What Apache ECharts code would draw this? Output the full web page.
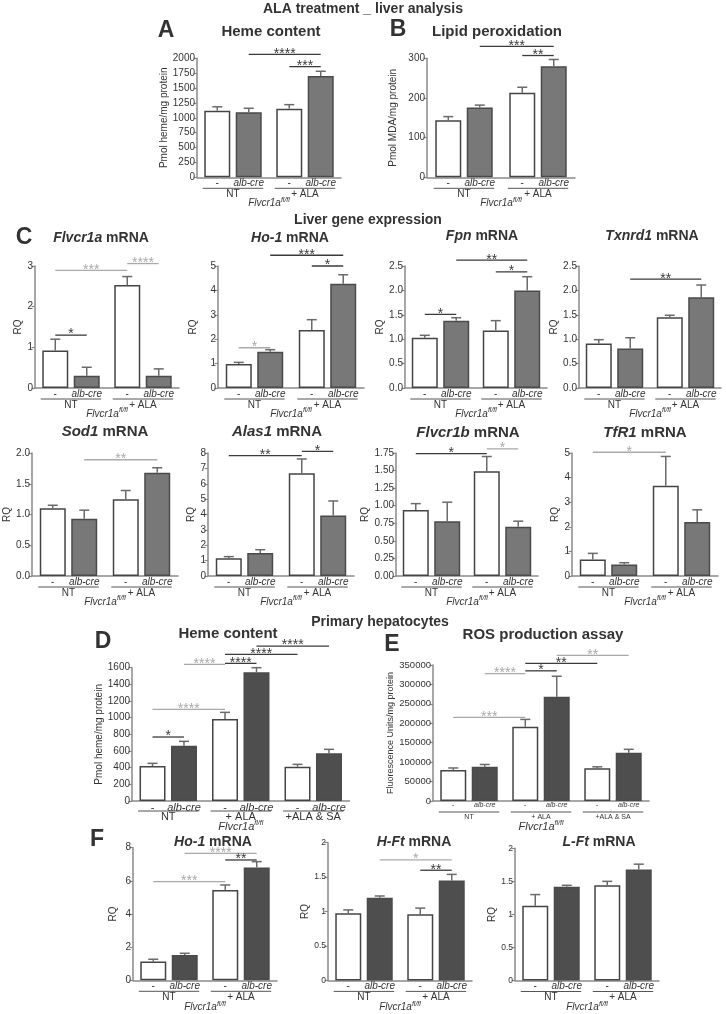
<!DOCTYPE html>
<html><head><meta charset="utf-8">
<script src="https://cdn.jsdelivr.net/npm/echarts@6/dist/echarts.min.js"></script>
<style>html,body{margin:0;padding:0;background:#fff}#c{width:726px;height:1014px}</style>
</head><body><div id="c"></div>
<script>
// ================= DATA =================
const groups2 = ['NT', '+ ALA'];
const groups3 = ['NT', '+ ALA', '+ALA & SA'];
const barTags = ['-', 'alb-cre'];

// sig rows: [fromBar, toBar, yValue, stars, tone]  (bar index: group*2 + (0=ctrl,1=alb-cre))
// A - heme content (liver)
const hemeLiverCtrl = [1120, 1154], hemeLiverCtrlErr = [65, 67];
const hemeLiverCre = [1092, 1703], hemeLiverCreErr = [68, 79];
const hemeLiverSig = [[1, 3, 2067, '****', 'd'], [2, 3, 1860, '***', 'd']];
// B - lipid peroxidation
const lipidCtrl = [144, 213], lipidCtrlErr = [9, 14];
const lipidCre = [176, 280], lipidCreErr = [6, 17];
const lipidSig = [[1, 3, 330, '***', 'd'], [2, 3, 307, '**', 'd']];
// C - liver gene expression
const flvcr1aCtrl = [0.92, 2.53], flvcr1aCtrlErr = [0.28, 0.21];
const flvcr1aCre = [0.30, 0.30], flvcr1aCreErr = [0.21, 0.17];
const flvcr1aSig = [[0, 2, 2.89, '***', 'g'], [2, 3, 3.06, '****', 'g'], [0, 1, 1.30, '*', 'd']];
const ho1LiverCtrl = [0.98, 2.38], ho1LiverCtrlErr = [0.07, 0.42];
const ho1LiverCre = [1.49, 4.27], ho1LiverCreErr = [0.08, 0.37];
const ho1LiverSig = [[0, 1, 1.65, '*', 'g'], [1, 3, 5.44, '***', 'd'], [2, 3, 5.0, '*', 'd']];
const fpnCtrl = [1.03, 1.18], fpnCtrlErr = [0.05, 0.20];
const fpnCre = [1.38, 2.00], fpnCreErr = [0.06, 0.28];
const fpnSig = [[0, 1, 1.51, '*', 'd'], [1, 3, 2.62, '**', 'd'], [2, 3, 2.38, '*', 'd']];
const txnrd1Ctrl = [0.91, 1.45], txnrd1CtrlErr = [0.08, 0.04];
const txnrd1Cre = [0.81, 1.86], txnrd1CreErr = [0.22, 0.25];
const txnrd1Sig = [[1, 3, 2.23, '**', 'd']];
const sod1Ctrl = [1.10, 1.25], sod1CtrlErr = [0.05, 0.14];
const sod1Cre = [0.93, 1.68], sod1CreErr = [0.14, 0.08];
const sod1Sig = [[1, 3, 1.89, '**', 'g']];
const alas1Ctrl = [1.15, 6.68], alas1CtrlErr = [0.11, 0.93];
const alas1Cre = [1.50, 3.93], alas1CreErr = [0.21, 0.95];
const alas1Sig = [[0, 2, 7.83, '**', 'd'], [2, 3, 8.10, '*', 'd']];
const flvcr1bCtrl = [0.94, 1.49], flvcr1bCtrlErr = [0.09, 0.21];
const flvcr1bCre = [0.78, 0.70], flvcr1bCreErr = [0.27, 0.08];
const flvcr1bSig = [[0, 2, 1.74, '*', 'd'], [2, 3, 1.81, '*', 'g']];
const tfr1Ctrl = [0.67, 3.67], tfr1CtrlErr = [0.25, 1.19];
const tfr1Cre = [0.47, 2.20], tfr1CreErr = [0.07, 0.49];
const tfr1Sig = [[0, 2, 5.03, '*', 'g']];
// D - heme content (primary hepatocytes)
const hemeHepCtrl = [420, 984, 412], hemeHepCtrlErr = [32, 80, 28];
const hemeHepCre = [664, 1544, 572], hemeHepCreErr = [52, 56, 48];
const hemeHepSig = [[0, 1, 768, '*', 'd'], [0, 2, 1100, '****', 'g'], [1, 2, 1640, '****', 'g'],
                    [2, 3, 1652, '****', 'd'], [2, 4, 1760, '****', 'd'], [3, 5, 1860, '****', 'd']];
// E - ROS production
const rosCtrl = [80000, 191000, 84000], rosCtrlErr = [5000, 19000, 4000];
const rosCre = [88000, 268000, 124000], rosCreErr = [6000, 53000, 9000];
const rosSig = [[0, 2, 215000, '***', 'g'], [1, 2, 328000, '****', 'g'], [2, 3, 335000, '*', 'd'],
                [2, 4, 354000, '**', 'd'], [3, 5, 375000, '**', 'g']];
// F - hepatocyte gene expression
const ho1HepCtrl = [1.13, 5.45], ho1HepCtrlErr = [0.14, 0.30];
const ho1HepCre = [1.53, 6.81], ho1HepCreErr = [0.10, 0.35];
const ho1HepSig = [[0, 2, 5.95, '***', 'g'], [1, 3, 7.66, '****', 'g'], [2, 3, 7.26, '**', 'd']];
const hftCtrl = [0.974, 0.96], hftCtrlErr = [0.05, 0.09];
const hftCre = [1.20, 1.45], hftCreErr = [0.026, 0.09];
const hftSig = [[1, 3, 1.75, '*', 'g'], [2, 3, 1.60, '**', 'd']];
const lftCtrl = [1.13, 1.44], lftCtrlErr = [0.17, 0.06];
const lftCre = [1.42, 1.68], lftCreErr = [0.02, 0.08];
const lftSig = [];

// ================= STYLE / LAYOUT =================
const FONT = "'Liberation Sans', Arial, Helvetica, sans-serif";
const NARROW = "'Liberation Sans Narrow', 'Liberation Sans', Arial, sans-serif";
const INK = '#333';
const SIG_D = '#3a3a3a', SIG_G = '#a9a9a9';
const AXIS = '#8a8a8a';
const LIVER_GREY = '#787878', HEP_GREY = '#4e4e4e';
const BAR_W = 26, GAP = 0.21, OFF = BAR_W * (1 + GAP) / 2;

const base = { tickFs: 10, tickFont: FONT, tagFs: 10, grpFs: 10, genoFs: 10, starFs: 14,
  tagDist: 1, lineDy: 11, grpDy: 17, genoDy: 26, nameFs: 10, yName: 'RQ', groups: groups2 };

const panels = [
  { ...base, left: 197, top: 58.3, width: 144, height: 119, max: 2000, interval: 250, dec: 0,
    yName: 'Pmol heme/mg protein', nameX: 166.5, dark: LIVER_GREY,
    ctrl: hemeLiverCtrl, ctrlErr: hemeLiverCtrlErr, cre: hemeLiverCre, creErr: hemeLiverCreErr, sig: hemeLiverSig },
  { ...base, left: 427, top: 58.3, width: 148, height: 119, max: 300, interval: 100, dec: 0,
    yName: 'Pmol MDA/mg protein', nameX: 393, dark: LIVER_GREY,
    ctrl: lipidCtrl, ctrlErr: lipidCtrlErr, cre: lipidCre, creErr: lipidCreErr, sig: lipidSig },
  { ...base, left: 35, top: 266, width: 144, height: 122, max: 3, interval: 1, dec: 0, nameX: 20, dark: LIVER_GREY,
    ctrl: flvcr1aCtrl, ctrlErr: flvcr1aCtrlErr, cre: flvcr1aCre, creErr: flvcr1aCreErr, sig: flvcr1aSig },
  { ...base, left: 218, top: 266, width: 146, height: 122, max: 5, interval: 1, dec: 0, nameX: 193, dark: LIVER_GREY,
    ctrl: ho1LiverCtrl, ctrlErr: ho1LiverCtrlErr, cre: ho1LiverCre, creErr: ho1LiverCreErr, sig: ho1LiverSig },
  { ...base, left: 405, top: 266, width: 142, height: 122, max: 2.5, interval: 0.5, dec: 1, nameX: 386, dark: LIVER_GREY,
    ctrl: fpnCtrl, ctrlErr: fpnCtrlErr, cre: fpnCre, creErr: fpnCreErr, sig: fpnSig },
  { ...base, left: 579, top: 266, width: 142, height: 122, max: 2.5, interval: 0.5, dec: 1, nameX: 557, dark: LIVER_GREY,
    ctrl: txnrd1Ctrl, ctrlErr: txnrd1CtrlErr, cre: txnrd1Cre, creErr: txnrd1CreErr, sig: txnrd1Sig },
  { ...base, left: 32, top: 453, width: 146, height: 123, max: 2, interval: 0.5, dec: 1, nameX: 13, dark: LIVER_GREY,
    ctrl: sod1Ctrl, ctrlErr: sod1CtrlErr, cre: sod1Cre, creErr: sod1CreErr, sig: sod1Sig },
  { ...base, left: 208, top: 453, width: 146, height: 123, max: 8, interval: 1, dec: 0, nameX: 193, dark: LIVER_GREY,
    ctrl: alas1Ctrl, ctrlErr: alas1CtrlErr, cre: alas1Cre, creErr: alas1CreErr, sig: alas1Sig },
  { ...base, left: 396, top: 453, width: 142, height: 123, max: 1.75, interval: 0.25, dec: 2, nameX: 380, dark: LIVER_GREY,
    ctrl: flvcr1bCtrl, ctrlErr: flvcr1bCtrlErr, cre: flvcr1bCre, creErr: flvcr1bCreErr, sig: flvcr1bSig },
  { ...base, left: 572, top: 453, width: 146, height: 123, max: 5, interval: 1, dec: 0, nameX: 557, dark: LIVER_GREY,
    ctrl: tfr1Ctrl, ctrlErr: tfr1CtrlErr, cre: tfr1Cre, creErr: tfr1CreErr, sig: tfr1Sig },
  { ...base, left: 132, top: 667.7, width: 217.5, height: 133.3, max: 1600, interval: 200, dec: 0,
    yName: 'Pmol heme/mg protein', nameX: 100, groups: groups3, dark: HEP_GREY,
    tagFs: 11, grpFs: 11, genoFs: 11, lineDy: 10, grpDy: 15.5, genoDy: 26,
    ctrl: hemeHepCtrl, ctrlErr: hemeHepCtrlErr, cre: hemeHepCre, creErr: hemeHepCreErr, sig: hemeHepSig },
  { ...base, left: 433, top: 665, width: 216, height: 136, max: 350000, interval: 50000, dec: 0,
    yName: 'Fluorescence Units/mg protein', nameX: 392, nameFs: 9, tickFs: 9.5, groups: groups3, dark: HEP_GREY,
    tagFs: 7, grpFs: 7, genoFs: 11, lineDy: 11, grpDy: 16, genoDy: 26,
    ctrl: rosCtrl, ctrlErr: rosCtrlErr, cre: rosCre, creErr: rosCreErr, sig: rosSig },
  { ...base, left: 133, top: 847.7, width: 144, height: 132.6, max: 8, interval: 2, dec: 0, nameX: 113, dark: HEP_GREY,
    lineDy: 11, grpDy: 17, genoDy: 27,
    ctrl: ho1HepCtrl, ctrlErr: ho1HepCtrlErr, cre: ho1HepCre, creErr: ho1HepCreErr, sig: ho1HepSig },
  { ...base, left: 328, top: 842.7, width: 144, height: 137.7, max: 2, interval: 0.5, dec: null, nameX: 309,
    tickFs: 8.5, tickFont: NARROW, dark: HEP_GREY, lineDy: 11, grpDy: 17, genoDy: 27,
    ctrl: hftCtrl, ctrlErr: hftCtrlErr, cre: hftCre, creErr: hftCreErr, sig: hftSig },
  { ...base, left: 515, top: 848.3, width: 144, height: 132.2, max: 2, interval: 0.5, dec: null, nameX: 500,
    tickFs: 8.5, tickFont: NARROW, dark: HEP_GREY, lineDy: 11, grpDy: 17, genoDy: 27,
    ctrl: lftCtrl, ctrlErr: lftCtrlErr, cre: lftCre, creErr: lftCreErr, sig: lftSig }
];

// Text labels (titles, letters, sections)
const sectionTitles = [
  ['ALA treatment _ liver analysis', 363, 9],
  ['Liver gene expression', 368, 220],
  ['Primary hepatocytes', 380, 622]
];
const letters = [['A', 166, 31], ['B', 398, 30], ['C', 24, 238], ['D', 103, 642], ['E', 392, 645], ['F', 97, 840]];
// [gene (italic) , rest, x, y, size]
const panelTitles = [
  ['', 'Heme content', 271, 32, 15],
  ['', 'Lipid peroxidation', 497, 32, 15],
  ['Flvcr1a', ' mRNA', 101, 238, 14],
  ['Ho-1', ' mRNA', 290, 238, 14],
  ['Fpn', ' mRNA', 482, 236, 14],
  ['Txnrd1', ' mRNA', 652, 236, 14],
  ['Sod1', ' mRNA', 105, 432, 15],
  ['Alas1', ' mRNA', 277, 432, 15],
  ['Flvcr1b', ' mRNA', 468, 433, 15],
  ['TfR1', ' mRNA', 645, 433, 15],
  ['', 'Heme content', 228, 634, 15],
  ['', 'ROS production assay', 543, 635, 15],
  ['Ho-1', ' mRNA', 213, 842, 14],
  ['H-Ft', ' mRNA', 414, 842, 14],
  ['L-Ft', ' mRNA', 599, 842, 14]
];

// ================= BUILD =================
function barOffset(b) { return b % 2 ? OFF : -OFF; }

function errRender(params, api) {
  const cat = api.value(0), v = api.value(1), e = api.value(2), s = api.value(3);
  const top = api.coord([cat, v + e]);
  const bot = api.coord([cat, v]);
  const x = top[0] + s * OFF;
  const st = { stroke: '#6a6a6a', lineWidth: 1.5 };
  return { type: 'group', children: [
    { type: 'line', shape: { x1: x, y1: bot[1], x2: x, y2: top[1] }, style: st },
    { type: 'line', shape: { x1: x - 5, y1: top[1], x2: x + 5, y2: top[1] }, style: st }
  ] };
}

function makeSigRender(p) {
  return function (params, api) {
    const s = p.sig[params.dataIndex];
    const y = api.coord([0, s[2]])[1];
    const xOf = b => api.coord([Math.floor(b / 2), s[2]])[0] + barOffset(b);
    const x1 = xOf(s[0]), x2 = xOf(s[1]);
    const col = s[4] === 'g' ? SIG_G : SIG_D;
    return { type: 'group', children: [
      { type: 'line', shape: { x1, y1: y, x2, y2: y }, style: { stroke: col, lineWidth: 1.3 } },
      { type: 'text', x: (x1 + x2) / 2, y: y - 0.5, style: { text: s[3], fill: col,
        font: p.starFs + 'px ' + FONT, align: 'center', verticalAlign: 'middle',
        textAlign: 'center', textVerticalAlign: 'middle' } }
    ] };
  };
}

function makeGroupRender(p) {
  return function (params, api) {
    const y0 = api.coord([0, 0])[1];
    const half = OFF + BAR_W / 2 + 1.5;
    const ch = [];
    p.groups.forEach((g, i) => {
      const c = api.coord([i, 0])[0];
      ch.push({ type: 'line', shape: { x1: c - half, y1: y0 + p.lineDy, x2: c + half, y2: y0 + p.lineDy },
        style: { stroke: '#555', lineWidth: 1 } });
      ch.push({ type: 'text', x: c, y: y0 + p.grpDy, style: { text: g, fill: INK,
        font: p.grpFs + 'px ' + FONT, align: 'center', verticalAlign: 'middle',
        textAlign: 'center', textVerticalAlign: 'middle' } });
    });
    const m = (api.coord([0, 0])[0] + api.coord([p.groups.length - 1, 0])[0]) / 2;
    ch.push({ type: 'text', x: m, y: y0 + p.genoDy, style: {
      text: '{g|Flvcr1a}{s|fl/fl}', align: 'center', verticalAlign: 'middle',
      textAlign: 'center', textVerticalAlign: 'middle',
      rich: {
        g: { fontSize: p.genoFs, fontStyle: 'italic', fontFamily: FONT, fill: INK, color: INK },
        s: { fontSize: Math.round(p.genoFs * 0.65), fontStyle: 'italic', fontFamily: FONT, fill: INK, color: INK,
             padding: [0, 0, Math.round(p.genoFs * 0.7), 0] }
      } } });
    return { type: 'group', children: ch };
  };
}

const grids = [], xAxes = [], yAxes = [], series = [], graphics = [];
panels.forEach((p, k) => {
  grids.push({ left: p.left, top: p.top, width: p.width, height: p.height, containLabel: false, outerBoundsMode: 'none' });
  xAxes.push({ type: 'category', gridIndex: k, data: p.groups,
    axisLine: { show: true, lineStyle: { color: AXIS, width: 1.5 } },
    axisTick: { show: false }, axisLabel: { show: false }, splitLine: { show: false } });
  yAxes.push({ type: 'value', gridIndex: k, min: 0, max: p.max, interval: p.interval,
    axisLine: { show: true, lineStyle: { color: AXIS, width: 1.5 } },
    axisTick: { show: true, length: 3.5, lineStyle: { color: AXIS, width: 1.2 } },
    splitLine: { show: false },
    axisLabel: { fontSize: p.tickFs, fontFamily: p.tickFont, color: INK, margin: 2,
      formatter: v => (p.dec === null ? String(v) : v.toFixed(p.dec)) },
    name: p.yName, nameLocation: 'middle', nameGap: p.left - p.nameX - p.nameFs / 2,
    nameTextStyle: { fontSize: p.nameFs, fontFamily: FONT, color: INK } });
  const lab = (txt, italic) => ({ show: true, position: 'bottom', distance: p.tagDist, formatter: txt,
    fontSize: p.tagFs, fontFamily: FONT, fontStyle: italic ? 'italic' : 'normal', color: INK });
  series.push({ type: 'bar', xAxisIndex: k, yAxisIndex: k, data: p.ctrl, barWidth: BAR_W, barGap: (GAP * 100) + '%',
    itemStyle: { color: '#ffffff', borderColor: '#444', borderWidth: 1.5 }, label: lab(barTags[0], false), silent: true });
  series.push({ type: 'bar', xAxisIndex: k, yAxisIndex: k, data: p.cre, barWidth: BAR_W, barGap: (GAP * 100) + '%',
    itemStyle: { color: p.dark, borderColor: '#4a4a4a', borderWidth: 1.5 }, label: lab(barTags[1], true), silent: true });
  const errData = [];
  p.ctrl.forEach((v, i) => errData.push([i, v, p.ctrlErr[i], -1]));
  p.cre.forEach((v, i) => errData.push([i, v, p.creErr[i], 1]));
  series.push({ type: 'custom', xAxisIndex: k, yAxisIndex: k, data: errData, renderItem: errRender, clip: false, z: 5, silent: true });
  if (p.sig.length) {
    series.push({ type: 'custom', xAxisIndex: k, yAxisIndex: k, data: p.sig.map(s => [0, s[2]]),
      renderItem: makeSigRender(p), clip: false, z: 6, silent: true });
  }
  series.push({ type: 'custom', xAxisIndex: k, yAxisIndex: k, data: [[0, 0]],
    renderItem: makeGroupRender(p), clip: false, z: 6, silent: true });
});

sectionTitles.forEach(t => graphics.push({ type: 'text', x: t[1], y: t[2], silent: true,
  style: { text: t[0], font: 'bold 14px ' + FONT, fill: INK, align: 'center', verticalAlign: 'middle',
    textAlign: 'center', textVerticalAlign: 'middle' } }));
letters.forEach(t => graphics.push({ type: 'text', x: t[1], y: t[2], silent: true,
  style: { text: t[0], font: 'bold 23px ' + FONT, fill: INK, align: 'center', verticalAlign: 'middle',
    textAlign: 'center', textVerticalAlign: 'middle' } }));
panelTitles.forEach(t => graphics.push({ type: 'text', x: t[2], y: t[3], silent: true,
  style: { text: (t[0] ? '{i|' + t[0] + '}' : '') + '{n|' + t[1] + '}', align: 'center', verticalAlign: 'middle',
    textAlign: 'center', textVerticalAlign: 'middle',
    rich: {
      i: { fontSize: t[4], fontWeight: 'bold', fontStyle: 'italic', fontFamily: FONT, fill: INK, color: INK },
      n: { fontSize: t[4], fontWeight: 'bold', fontFamily: FONT, fill: INK, color: INK }
    } } }));

const chart = echarts.init(document.getElementById('c'), null, { renderer: 'canvas' });
chart.setOption({
  animation: false,
  backgroundColor: '#ffffff',
  textStyle: { fontFamily: FONT },
  grid: grids, xAxis: xAxes, yAxis: yAxes, series: series, graphic: graphics
});
</script></body></html>
